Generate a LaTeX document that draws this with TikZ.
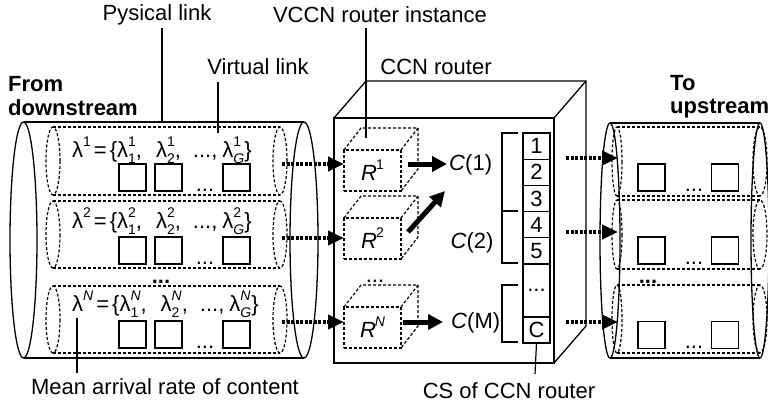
\documentclass[tikz,border=0pt]{standalone}
\usepackage{fontspec}
\setmainfont{Liberation Sans}
\usetikzlibrary{arrows.meta}
\newlength\supw
\newlength\subw
\newcommand{\smallfs}{\fontsize{14}{14}\selectfont}
\newcommand{\lsub}[2]{λ\settowidth\supw{\smallfs #1}\settowidth\subw{\smallfs #2}%
  \makebox[0pt][l]{\raisebox{0.5em}{\smallfs #1}}\makebox[0pt][l]{\raisebox{-0.3em}{\smallfs #2}}%
  \ifdim\supw>\subw\hspace{\supw}\else\hspace{\subw}\fi}
\newcommand{\lsup}[1]{λ\raisebox{0.5em}{\smallfs #1}}
\newcommand{\rlab}[1]{\textit{R}\kern-1pt\raisebox{0.5em}{\smallfs #1}}
\newcommand{\lamrow}[1]{\lsup{#1}\hspace{3pt}=\hspace{3pt}\{\lsub{#1}{1},\hspace{14pt}\lsub{#1}{2},\hspace{12pt}...,\hspace{5pt}\lsub{#1}{\textit{G}}\}}
\newcommand{\vlink}[6]{%
  \pgfmathsetmacro{\vm}{(#3+#4)/2}\pgfmathsetmacro{\vr}{(#4-#3)/2}%
  \draw[dsh] (#1,#3) -- (#2,#3) (#1,#4) -- (#2,#4);
  \draw[dsh] (#1,\vm) ellipse (#5 and \vr) (#2,\vm) ellipse (#6 and \vr);}
\tikzset{
  solidln/.style={line width=1.3pt},
  dsh/.style={line width=1.2pt, dash pattern=on 3pt off 2pt},
  sq/.style={draw, line width=1.3pt, minimum size=27pt, inner sep=0pt, outer sep=0pt},
  rfront/.style={draw, dsh, minimum width=57pt, minimum height=41pt, inner sep=0pt, outer sep=0pt},
  cell/.style={draw, line width=1.3pt, minimum width=27pt, inner sep=0pt, outer sep=0pt},
  dotarrow/.style={line width=4.5pt, dash pattern=on 3pt off 1.5pt, -{Triangle[length=16pt,width=14pt]}},
  thickarrow/.style={line width=5pt, -{Triangle[length=15pt,width=15pt]}},
  leader/.style={line width=1.2pt},
  dotsl/.style={inner sep=0pt, anchor=base},
}
\begin{document}
\begin{tikzpicture}[x=1pt, y=-1pt, font=\fontsize{22}{26}\selectfont]
\useasboundingbox (0,0) rectangle (768,407);
% ---------- left cylinder ----------
\draw[solidln] (23.5,122) -- (304,122) (23.5,358) -- (304,358);
\draw[solidln] (23.5,240) ellipse (13.5 and 118);
\draw[solidln] (304,240) ellipse (14 and 118);
\vlink{53}{280}{127}{195}{7}{7}
\vlink{53}{280}{201}{268}{7}{7}
\vlink{53}{280}{286}{353}{7}{7}
\node[anchor=base west, inner sep=0pt] (row1) at (72,157) {\lamrow{1}};
\node[anchor=base west, inner sep=0pt] (row2) at (72,228) {\lamrow{2}};
\node[anchor=base west, inner sep=0pt] (rowN) at (72,311) {\lamrow{\textit{N}}};
\foreach \yy/\nm in {177.5/a, 250.5/b, 334.5/c}{
  \node[sq] (\nm sq1) at (132.5,\yy) {};
  \node[sq] (\nm sq2) at (168.5,\yy) {};
  \node[sq] (\nm sq3) at (236.5,\yy) {};
  \node[dotsl] (\nm dots) at (205,\yy+13.5) {...};
}
\node[dotsl, font=\fontsize{22}{26}\selectfont\bfseries] (ldots) at (161,283) {...};
% ---------- right cylinder ----------
\draw[solidln] (610,123) -- (760,123) (610,358) -- (760,358);
\draw[solidln] (610,240.5) ellipse (10 and 117.5);
\draw[solidln] (760,240.5) ellipse (9 and 117.5);
\vlink{617}{760}{127}{196}{5}{7}
\vlink{617}{760}{200}{269}{5}{7}
\vlink{617}{760}{285}{353}{5}{7}
\foreach \yy/\nm in {177.5/d, 250.5/e, 335/f}{
  \node[sq] (\nm sq1) at (651.5,\yy) {};
  \node[sq] (\nm sq2) at (725,\yy) {};
  \node[dotsl] (\nm dots) at (694,\yy+13.5) {...};
}
\node[dotsl, font=\fontsize{22}{26}\selectfont\bfseries] (rdots) at (648,283) {...};
% ---------- router box ----------
\node[draw, line width=1.3pt, minimum width=220pt, minimum height=245pt, inner sep=0pt, outer sep=0pt] (router) at (444,240.5) {};
\draw[solidln] (router.north west) -- ++(32,-37) -- ++(220,0) -- ++(0,245) -- (router.south east);
\draw[solidln] (router.north east) -- ++(32,-37);
% VCCN router instances
\node[rfront] (r1) at (372.5,170.5) {\rlab{1}};
\node[rfront] (r2) at (372.5,238.5) {\rlab{2}};
\node[rfront] (rN) at (372.5,327.5) {\rlab{\textit{N}}};
\foreach \r in {r1,r2,rN}{
  \draw[dsh] (\r.north west) -- ++(17,-22) -- ++(57,0) -- ++(0,41) -- (\r.south east);
  \draw[dsh] (\r.north east) -- ++(17,-22);
}
\node[dotsl] (rdotsmid) at (375,282) {...};
% CS cells
\foreach \k in {1,...,5}{
  \node[cell, minimum height=26.2pt] (c\k) at (536.5,{133+26.2*(\k-0.5)}) {\k};
}
\node[cell, minimum height=53pt] (cdots) at (536.5,290.5) {...};
\node[cell, minimum height=26pt] (cC) at (536.5,330) {C};
\draw[leader] (518,133) -- (502,133) -- (502,263) -- (518,263) (502,211) -- (518,211);
\draw[leader] (518,285) -- (502,285) -- (502,342) -- (518,342);
% C labels
\node[anchor=west, inner sep=0pt] (cl1) at (449,165) {\textit{C}(1)};
\node[inner sep=0pt] (cl2) at (472,243) {\textit{C}(2)};
\node[anchor=west, inner sep=0pt] (clM) at (451,323) {\textit{C}(M)};
% arrows inside router
\coordinate (o1s) at (408,164); \coordinate (o1e) at (447,164);
\coordinate (o2s) at (408,232); \coordinate (o2e) at (445,191);
\coordinate (o3s) at (403,322); \coordinate (o3e) at (443,322);
\draw[thickarrow] (o1s) -- (o1e);
\draw[thickarrow] (o2s) -- (o2e);
\draw[thickarrow] (o3s) -- (o3e);
% dotted arrows left cylinder -> router instances
\coordinate (i1s) at (282,164); \coordinate (i1e) at (344,164);
\coordinate (i2s) at (282,238); \coordinate (i2e) at (344,238);
\coordinate (i3s) at (282,322); \coordinate (i3e) at (344,322);
\draw[dotarrow] (i1s) -- (i1e);
\draw[dotarrow] (i2s) -- (i2e);
\draw[dotarrow] (i3s) -- (i3e);
% dotted arrows router -> right cylinder
\coordinate (u1s) at (566,158); \coordinate (u1e) at (618,158);
\coordinate (u2s) at (566,232); \coordinate (u2e) at (618,232);
\coordinate (u3s) at (566,322); \coordinate (u3e) at (618,322);
\draw[dotarrow] (u1s) -- (u1e);
\draw[dotarrow] (u2s) -- (u2e);
\draw[dotarrow] (u3s) -- (u3e);
% ---------- labels ----------
\node (lphys) at (157,15) {Pysical link};
\coordinate (phys) at (162,122);
\draw[leader] (162,28) -- (phys);
\node (lvccn) at (380,15) {VCCN router instance};
\coordinate (vccn) at (366,138);
\draw[leader] (366,28) -- (vccn);
\node (lvirt) at (258,67) {Virtual link};
\coordinate (virt) at (218,133);
\draw[leader] (218,82) -- (virt);
\node (lccn) at (436,67) {CCN router};
\node[anchor=base west, inner sep=0pt, font=\fontsize{22}{26}\selectfont\bfseries] (lfrom) at (8,91) {From};
\node[anchor=base west, inner sep=0pt, font=\fontsize{22}{26}\selectfont\bfseries] (ldown) at (8,115) {downstream};
\node[anchor=base west, inner sep=0pt, font=\fontsize{22}{26}\selectfont\bfseries] (lto) at (670,90) {To};
\node[anchor=base west, inner sep=0pt, font=\fontsize{22}{26}\selectfont\bfseries] (lup) at (670,113) {upstream};
\node (lmean) at (165,387) {Mean arrival rate of content};
\coordinate (mean) at (77,318);
\draw[leader] (77,373) -- (mean);
\node (lcs) at (509,391) {CS of CCN router};
\draw[leader] (cC.south) -- (535,374);
\end{tikzpicture}
\end{document}
